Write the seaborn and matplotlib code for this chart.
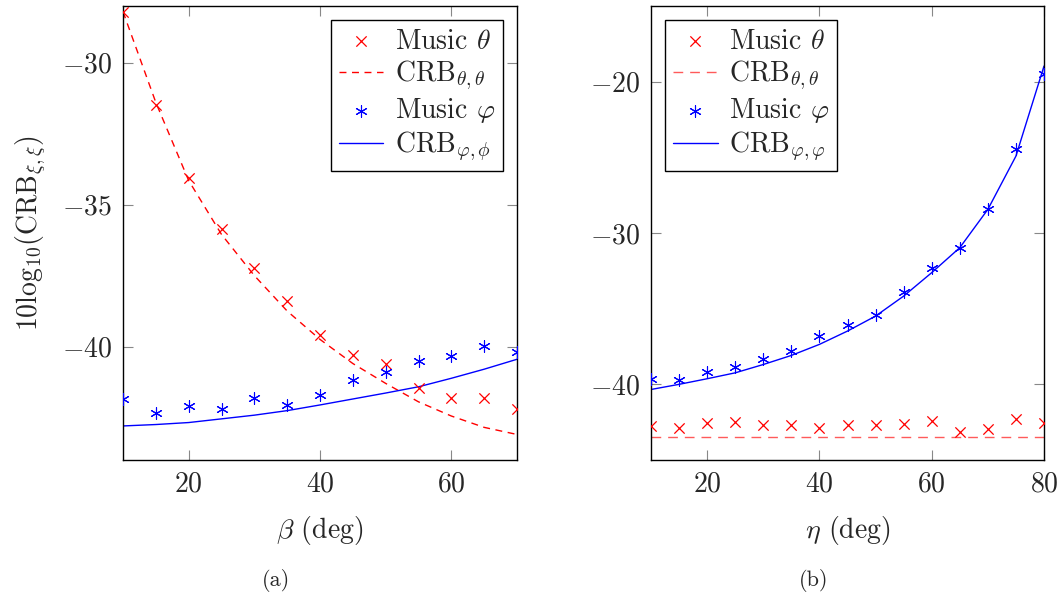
import numpy as np
import pandas as pd
import matplotlib
matplotlib.use("Agg")
import matplotlib.pyplot as plt
import seaborn as sns

# ---- data ----
beta = [10, 15, 20, 25, 30, 35, 40, 45, 50, 55, 60, 65, 70]
music_theta_a = [-28.2, -31.5, -34.05, -35.85, -37.25, -38.4, -39.6, -40.3, -40.6, -41.45, -41.8, -41.8, -42.2]
crb_theta_a = [-28.2, -31.4, -34.15, -36.05, -37.5, -38.75, -39.75, -40.6, -41.3, -41.95, -42.45, -42.85, -43.1]
music_phi_a = [-41.85, -42.33, -42.1, -42.22, -41.83, -42.06, -41.72, -41.18, -40.91, -40.5, -40.32, -39.97, -40.18]
crb_phi_a = [-42.8, -42.75, -42.68, -42.55, -42.42, -42.26, -42.06, -41.85, -41.64, -41.42, -41.12, -40.8, -40.45]

eta = [10, 15, 20, 25, 30, 35, 40, 45, 50, 55, 60, 65, 70, 75, 80]
music_theta_b = [-42.76, -42.91, -42.58, -42.5, -42.72, -42.72, -42.87, -42.7, -42.68, -42.63, -42.43, -43.13, -42.98, -42.32, -42.54]
crb_theta_b = [-43.5] * 15
music_phi_b = [-39.67, -39.74, -39.19, -38.84, -38.35, -37.8, -36.81, -36.08, -35.45, -33.88, -32.3, -30.97, -28.4, -24.47, -19.52]
crb_phi_b = [-40.34, -40.0, -39.63, -39.24, -38.69, -38.09, -37.36, -36.48, -35.49, -34.17, -32.62, -30.97, -28.44, -24.92, -18.97]

df_a = pd.DataFrame({"x": beta, "mt": music_theta_a, "ct": crb_theta_a,
                     "mp": music_phi_a, "cp": crb_phi_a})
df_b = pd.DataFrame({"x": eta, "mt": music_theta_b, "ct": crb_theta_b,
                     "mp": music_phi_b, "cp": crb_phi_b})

sns.set_style("ticks")
plt.rcParams["font.family"] = ["cmr10", "DejaVu Serif"]
plt.rcParams["mathtext.fontset"] = "cm"
plt.rcParams["axes.formatter.use_mathtext"] = True
plt.rcParams["axes.unicode_minus"] = True

FS = 20
star = (6, 2, 0)

fig = plt.figure(figsize=(10.63, 6), dpi=100)
ax1 = fig.add_axes([123 / 1063, 140 / 600, 394 / 1063, 454 / 600])
ax2 = fig.add_axes([651 / 1063, 140 / 600, 393 / 1063, 454 / 600])


def draw(ax, df, theta_dash_color, theta_dash, phi_sub):
    sns.scatterplot(data=df, x="x", y="mt", ax=ax, marker="x", color="red",
                    s=55, linewidth=0.9, label=r"Music $\theta$", zorder=3)
    sns.lineplot(data=df, x="x", y="ct", ax=ax, color=theta_dash_color,
                 linewidth=1.0, linestyle=theta_dash,
                 label=r"CRB$_{\theta,\theta}$")
    sns.scatterplot(data=df, x="x", y="mp", ax=ax, marker=star, color="blue",
                    edgecolor="blue", s=70, linewidth=0.8,
                    label=r"Music $\varphi$", zorder=3)
    sns.lineplot(data=df, x="x", y="cp", ax=ax, color="blue", linewidth=1.0,
                 label=r"CRB$_{\varphi," + phi_sub + r"}$")
    ax.tick_params(direction="in", length=7, width=0.8, color="#888888",
                   labelsize=FS, top=True, right=True, pad=8)
    for sp in ax.spines.values():
        sp.set_color("black")
        sp.set_linewidth(1.0)


draw(ax1, df_a, "red", (0, (5, 4)), r"\phi")
draw(ax2, df_b, "#ff5a5a", (0, (7, 5)), r"\varphi")

ax1.set_xlim(10, 70)
ax1.set_ylim(-44, -28)
ax1.set_xticks([20, 40, 60])
ax1.set_yticks([-30, -35, -40])
ax1.set_xlabel(r"$\beta$ (deg)", fontsize=FS, labelpad=12)
ax1.set_ylabel(r"10log$_{10}$(CRB$_{\xi,\xi}$)", fontsize=FS)
ax1.yaxis.set_label_coords(-0.19, 0.5)

ax2.set_xlim(10, 80)
ax2.set_ylim(-45, -15)
ax2.set_xticks([20, 40, 60, 80])
ax2.set_yticks([-20, -30, -40])
ax2.set_xlabel(r"$\eta$ (deg)", fontsize=FS, labelpad=12)
ax2.set_ylabel("")

leg_kw = dict(fontsize=FS, frameon=True, fancybox=False, edgecolor="black",
              framealpha=1, handlelength=1.6, handletextpad=0.4,
              labelspacing=0.15, borderpad=0.3, borderaxespad=0.5)
l1 = ax1.legend(loc="upper right", **leg_kw)
l2 = ax2.legend(loc="upper left", **leg_kw)
for l in (l1, l2):
    l.get_frame().set_linewidth(1.0)

fig.text(276 / 1063, 1 - 581 / 600, "(a)", ha="center", va="center", fontsize=16)
fig.text(814 / 1063, 1 - 581 / 600, "(b)", ha="center", va="center", fontsize=16)

fig.savefig("out.png", dpi=100)
